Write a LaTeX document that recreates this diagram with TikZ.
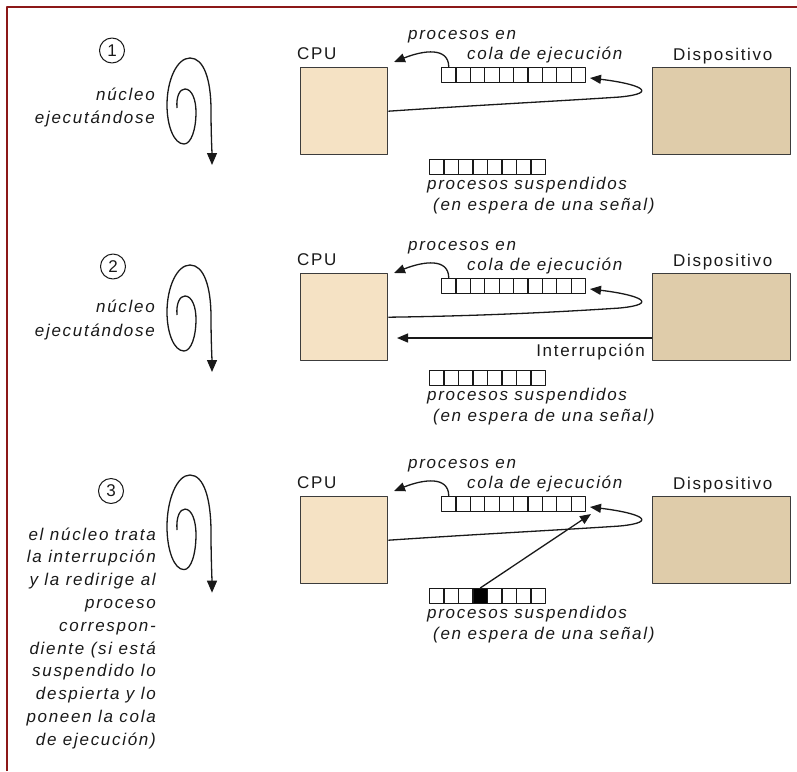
\documentclass[tikz,border=0pt]{standalone}
\usepackage{fontspec}
\setmainfont{Liberation Sans}
\newfontfamily\labfont{Liberation Sans}[LetterSpace=10]
\usetikzlibrary{arrows.meta,calc}
\definecolor{framered}{RGB}{140,24,24}
\definecolor{cpufill}{RGB}{245,226,196}
\definecolor{devfill}{RGB}{223,204,170}
\definecolor{ink}{RGB}{25,25,25}
\definecolor{boxline}{RGB}{60,60,60}

\newcommand\drawpanel[3]{% #1 id, #2 queue top Q, #3 box top B
  \node[cpubox, anchor=north west] (cpu#1) at (300,#3) {};
  \node[devbox, anchor=north west] (dev#1) at (652,#3) {};
  \node[txt, anchor=base west] (cpulab#1) at (297,#3-8) {CPU};
  \node[txt, anchor=base west] (devlab#1) at (673,#3-7) {Dispositivo};
  \foreach \k in {1,...,10}
    \node[cell, anchor=north west] (rq#1-\k) at ({441+(\k-1)*14.4},#2) {};
  \foreach \k in {1,...,8}
    \node[cell, anchor=north west] (sq#1-\k) at ({429+(\k-1)*14.5},#2+92) {};
  \node[itxt, anchor=base west] (rqa#1) at (408,#2-28) {procesos en};
  \node[itxt, anchor=base west] (rqb#1) at (467,#2-8) {cola de ejecución};
  \node[itxt, anchor=base west] (sqa#1) at (427,#2+122) {procesos suspendidos};
  \node[itxt, anchor=base west] (sqb#1) at (433,#2+143) {(en espera de una señal)};
  \coordinate (ra#1) at (394,#2-5);
  \draw[conn] (rq#1-1.north) .. controls +(0,-20) and +(30,-12) .. (ra#1);
  \coordinate (rb#1) at (590,#2+11);
  \draw[conn] (cpu#1.east) .. controls (480,#2+38) and (560,#2+34) .. (620,#2+30)
     .. controls (660,#2+26) and (640,#2+17) .. (rb#1);
}

\newcommand\spiralpath{%
  (177,50) .. controls (176,38) and (180,31) .. (185,31)
  .. controls (192,31) and (196,42) .. (196,54)
  .. controls (196,72) and (191,86) .. (184,86)
  .. controls (174,86) and (167,68) .. (167,47)
  .. controls (167,22) and (177,0) .. (190,0)
  .. controls (204,0) and (211,22) .. (211,52)
  .. controls (211,75) and (212,95) .. (212,107)}

\begin{document}
\begin{tikzpicture}[x=1pt,y=-1pt,line join=round,
  txt/.style={inner sep=0pt,text=ink,font=\labfont\fontsize{17}{17}\selectfont},
  itxt/.style={inner sep=0pt,text=ink,font=\labfont\itshape\fontsize{17}{17}\selectfont},
  cpubox/.style={draw=boxline,fill=cpufill,line width=1.4pt,minimum width=87pt,minimum height=87pt,inner sep=0pt},
  devbox/.style={draw=boxline,fill=devfill,line width=1.4pt,minimum width=138pt,minimum height=87pt,inner sep=0pt},
  cell/.style={draw=ink,line width=1.1pt,minimum width=14.4pt,minimum height=15pt,inner sep=0pt},
  conn/.style={draw=ink,line width=1.3pt,-{Triangle[length=11pt,width=9pt]}},
  spiral/.style={draw=ink,line width=1.3pt,-{Triangle[length=12pt,width=10pt]}},
  num/.style={circle,draw=ink,line width=1pt,minimum size=25pt,inner sep=0pt,text=ink,font=\fontsize{17}{17}\selectfont}]
\useasboundingbox (0,0) rectangle (797,771);
\draw[framered,line width=2pt] (7,771) -- (7,6.5) -- (797,6.5);

% panel 1
\drawpanel{1}{67}{67}
\node[num] (n1) at (112,50.5) {1};
\node[itxt,anchor=base east] (k1a) at (155,100) {núcleo};
\node[itxt,anchor=base east] (k1b) at (155,123) {ejecutándose};
\begin{scope}[shift={(0,58)}]
  \draw[spiral] \spiralpath;
\end{scope}

% panel 2
\drawpanel{2}{278}{273}
\node[num] (n2) at (113,266.5) {2};
\node[itxt,anchor=base east] (k2a) at (155,312) {núcleo};
\node[itxt,anchor=base east] (k2b) at (155,336) {ejecutándose};
\begin{scope}[shift={(0,265)}]
  \draw[spiral] \spiralpath;
\end{scope}
\coordinate (ia2) at (397,338);
\draw[conn] (dev2.west |- ia2) -- (ia2);
\node[txt,anchor=base east] (intlab) at (645,356) {Interrupción};

% panel 3
\drawpanel{3}{496}{496}
\node[cell,fill=black,anchor=north west] (blk) at (sq3-4.north west) {};
\coordinate (sa3) at (591,514);
\draw[conn] (sq3-4.north) -- (sa3);
\node[num] (n3) at (111,491) {3};
\foreach \t [count=\i] in {el núcleo trata,la interrupción,y la redirige al,proceso,correspon-,diente (si está,suspendido lo,despierta y lo,poneen la cola,de ejecución)}
  \node[itxt,anchor=base east] (k3-\i) at (156,{540+(\i-1)*22.8}) {\t};
\begin{scope}[shift={(0,475)},yscale=1.1]
  \draw[spiral] \spiralpath;
\end{scope}
\end{tikzpicture}
\end{document}
